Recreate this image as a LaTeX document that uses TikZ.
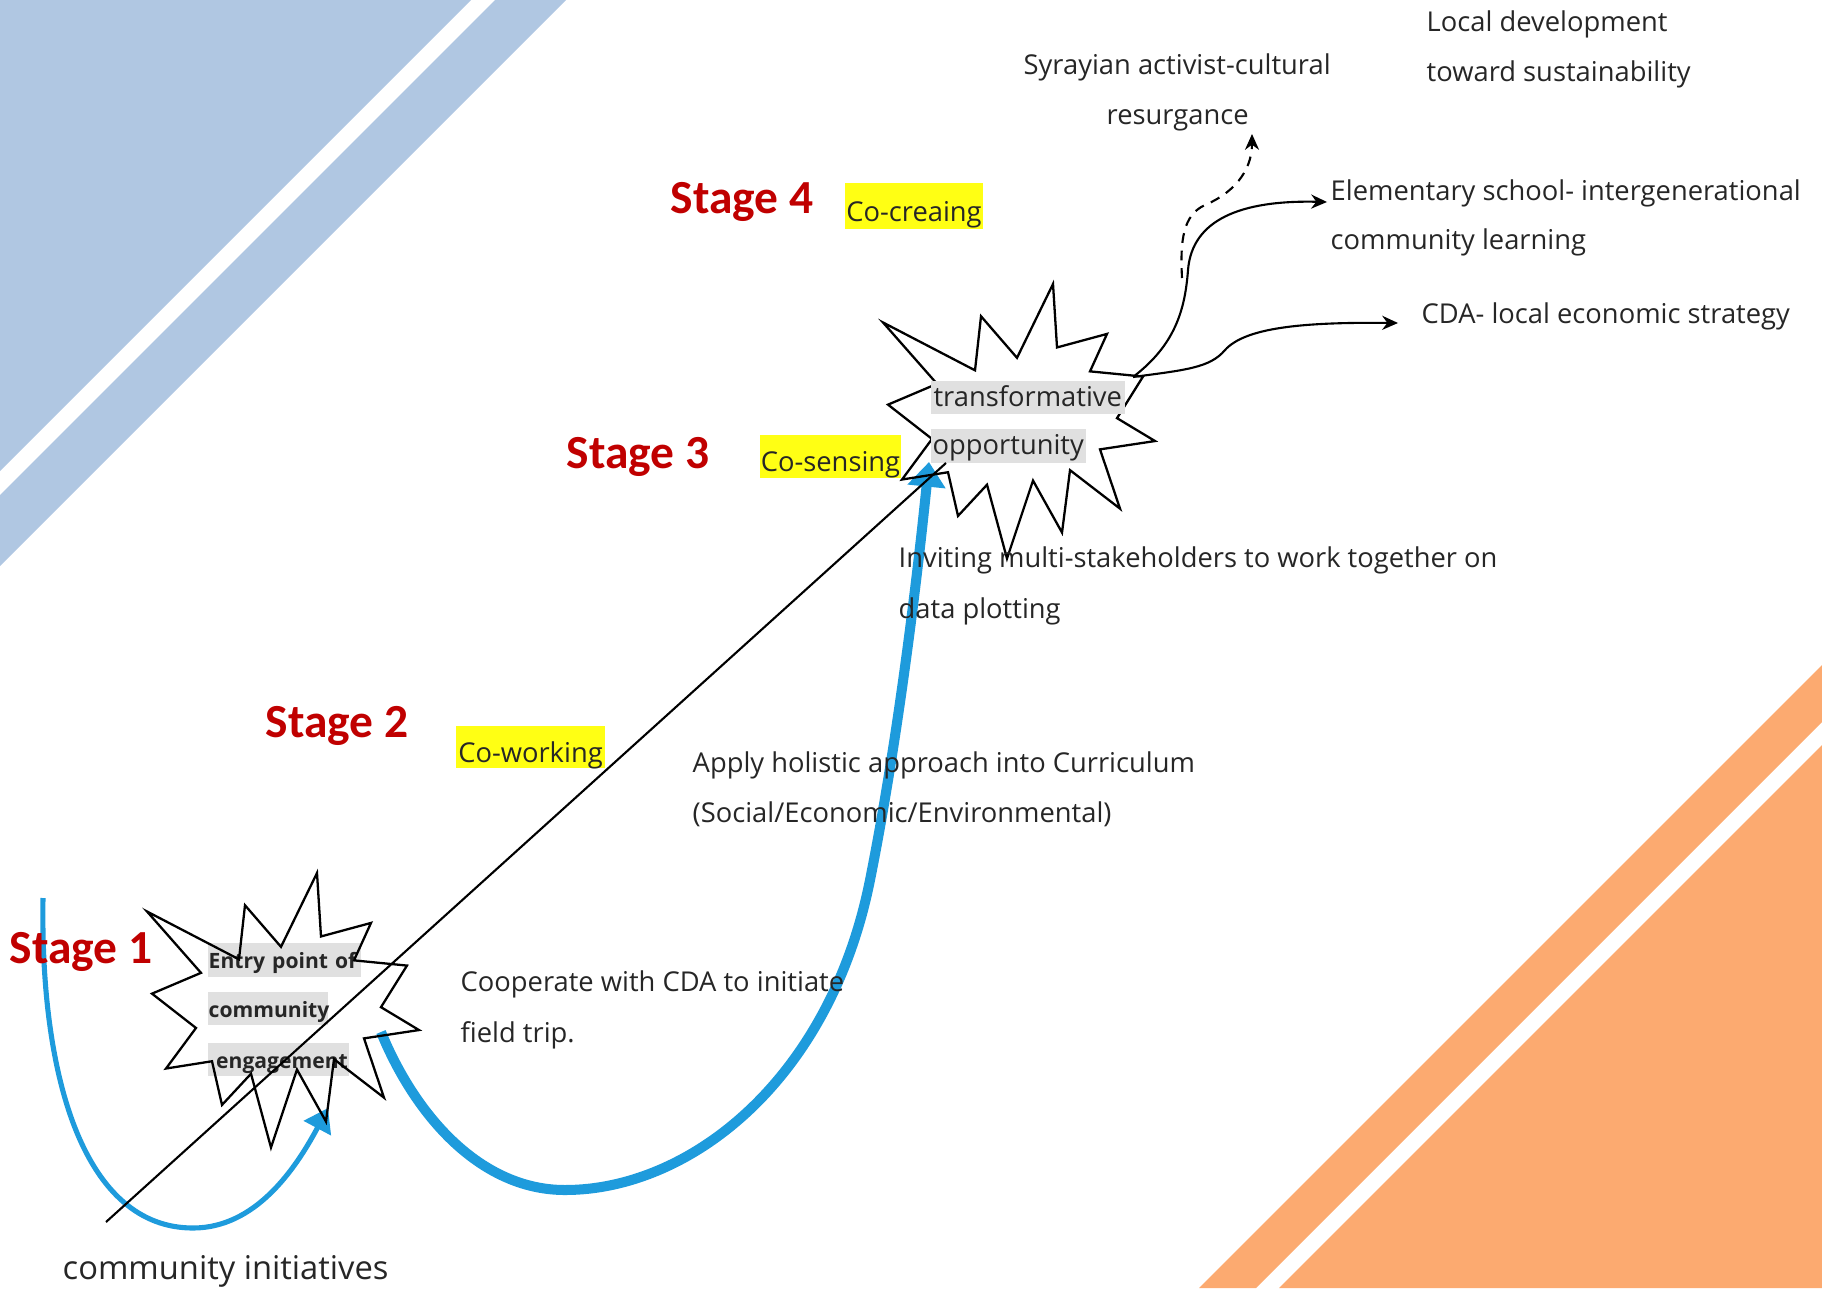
\documentclass[tikz,border=0pt]{standalone}
\usepackage{fontspec}
\setmainfont{Open Sans}
\newfontfamily\calfont{Carlito}
\usetikzlibrary{arrows.meta}
\definecolor{bluebg}{RGB}{176,199,226}
\definecolor{orangebg}{RGB}{252,170,112}
\definecolor{stagered}{RGB}{192,0,0}
\definecolor{curveblue}{RGB}{30,155,220}
\definecolor{hlyellow}{RGB}{255,255,20}
\definecolor{hlgrey}{RGB}{224,224,224}
\definecolor{txtc}{RGB}{38,38,38}
\newcommand\bodysize{\fontsize{7.77}{14.2}\selectfont}
\newcommand\drawexplosion[3]{%
  \draw[starline,shift={(#1,#2)},yscale=#3]
    (0,37) -- (92,83) -- (98,31) -- (134,71) -- (170,0) -- (174,61) -- (224,48) -- (207,84)
    -- (260,89) -- (234,129) -- (272,151) -- (217,159) -- (237,216) -- (187,179) -- (179,239)
    -- (150,189) -- (124,264) -- (104,193) -- (75,223) -- (65,181) -- (19,188) -- (49,149)
    -- (5,116) -- (54,96) -- cycle;}
\begin{document}
\begin{tikzpicture}[x=0.01cm,y=-0.01cm,
  bodytxt/.style={anchor=base west,inner sep=0pt,font=\bodysize,text=txtc},
  stagelbl/.style={anchor=base west,inner sep=0pt,font=\calfont\bfseries\fontsize{13.5}{15}\selectfont,text=stagered},
  ybox/.style={fill=hlyellow,inner sep=0pt,font=\bodysize,text=txtc,text height=0.9em,text depth=0.04em},
  gbox/.style={fill=hlgrey,inner xsep=0.02cm,inner ysep=0pt,anchor=west,font=\bodysize,text=txtc,text height=0.72em,text depth=0.22em},
  gboxb/.style={fill=hlgrey,inner xsep=0.01cm,inner ysep=0pt,anchor=west,font=\bfseries\fontsize{6}{7}\selectfont,text=txtc,text height=0.72em,text depth=0.22em},
  starline/.style={draw=black,line width=0.65pt,line join=miter},
  thinblue/.style={draw=curveblue,line width=1.45pt,-{Triangle[length=6.5pt,width=8.5pt]}},
  thickblue/.style={draw=curveblue,line width=2.85pt,-{Triangle[length=7pt,width=10.5pt]}},
  blackarrow/.style={draw=black,line width=0.6pt,-{Stealth[length=4.5pt,width=4pt]}},
  diag/.style={draw=black,line width=0.6pt}
]
\useasboundingbox (0,0) rectangle (1822,1288);
% background bands
\fill[bluebg] (0,0) -- (471,0) -- (0,471) -- cycle;
\fill[bluebg] (495,0) -- (566,0) -- (0,566) -- (0,495) -- cycle;
\fill[orangebg] (1822,665) -- (1822,722) -- (1256,1288) -- (1199,1288) -- cycle;
\fill[orangebg] (1822,745) -- (1822,1288) -- (1279,1288) -- cycle;

% named points
\coordinate (ciStart) at (43,898);
\coordinate (s1In) at (328,1108);
\coordinate (s1Out) at (381,1032);
\coordinate (s2In) at (929,462);
\coordinate (origin) at (106,1222);
\coordinate (s2Corner) at (946,463);
\coordinate (s2Out) at (1133,377);
\coordinate (branch) at (1182,278);
\coordinate (resTip) at (1252,134);
\coordinate (eleTip) at (1327,202);
\coordinate (cdaTip) at (1398,323);
\coordinate (star1) at (283,1010);
\coordinate (star2) at (1019,420);

% blue curves
\draw[thinblue] (ciStart) .. controls (40,1080) and (85,1228) .. (193,1228)
  .. controls (255,1228) and (295,1170) .. (s1In);
\draw[thickblue] (s1Out) .. controls (415,1115) and (480,1190) .. (565,1190)
  .. controls (690,1190) and (830,1080) .. (870,880)
  .. controls (895,755) and (915,600) .. (s2In);

% star 2 outline and labels
\drawexplosion{883}{284}{1.04}
\node[gbox,minimum width=1.94cm,minimum height=0.33cm] (tr) at (930,397.5) {transformative};
\node[gbox,minimum width=1.53cm,minimum height=0.32cm] (op) at (930,446) {opportunity};

% star 1 labels and outline
\node[gboxb,text width=1.51cm,align=left,minimum height=0.24cm] (ep1) at (207,960) {Entry point of};
\node[gboxb,text width=1.18cm,align=left,minimum height=0.27cm] (ep2) at (207,1008.5) {community};
\node[gboxb,text width=1.39cm,align=right,minimum height=0.25cm] (ep3) at (207,1059.5) {engagement};
\drawexplosion{147}{873}{1.04}

% diagonal
\draw[diag] (origin) -- (s2Corner);

% black arrows from star 2
\draw[blackarrow] (s2Out) .. controls (1175,345) and (1185,310) .. (1188,270)
  .. controls (1192,220) and (1240,200) .. (eleTip);
\draw[blackarrow] (s2Out) .. controls (1185,370) and (1210,368) .. (1225,350)
  .. controls (1245,328) and (1300,322) .. (cdaTip);
\draw[blackarrow,dash pattern=on 2.8pt off 2.2pt] (branch) .. controls (1180,240) and (1183,215) .. (1205,205)
  .. controls (1240,190) and (1252,165) .. (resTip);

% highlighted stage words
\node[ybox,minimum width=1.38cm,minimum height=0.46cm] (cocreate) at (914,206) {Co-creaing};
\node[ybox,minimum width=1.41cm,minimum height=0.43cm] (cosense) at (830.5,456.5) {Co-sensing};
\node[ybox,minimum width=1.49cm,minimum height=0.42cm] (cowork) at (530.5,747) {Co-working};

% stage labels
\node[stagelbl] (st1) at (9,963) {Stage 1};
\node[stagelbl] (st2) at (265,737) {Stage 2};
\node[stagelbl] (st3) at (566,468) {Stage 3};
\node[stagelbl] (st4) at (670,213) {Stage 4};

% texts
\node[bodytxt] (syr1) at (1023,75) {Syrayian activist-cultural};
\node[bodytxt] (syr2) at (1106,125) {resurgance};
\node[bodytxt] (loc1) at (1426,32) {Local development};
\node[bodytxt] (loc2) at (1426,82) {toward sustainability};
\node[bodytxt] (ele1) at (1330,200) {Elementary school- intergenerational};
\node[bodytxt] (ele2) at (1330,249) {community learning};
\node[bodytxt] (cda) at (1421,323) {CDA- local economic strategy};
\node[bodytxt] (inv1) at (898,567) {Inviting multi-stakeholders to work together on};
\node[bodytxt] (inv2) at (898,618) {data plotting};
\node[bodytxt] (app1) at (692,772) {Apply holistic approach into Curriculum};
\node[bodytxt] (app2) at (692,822) {(Social/Economic/Environmental)};
\node[bodytxt] (coop1) at (460,991) {Cooperate with CDA to initiate};
\node[bodytxt] (coop2) at (460,1042) {field trip.};
\node[bodytxt,font=\fontsize{9.3}{11}\selectfont] (ci) at (62,1279) {community initiatives};
\end{tikzpicture}
\end{document}
